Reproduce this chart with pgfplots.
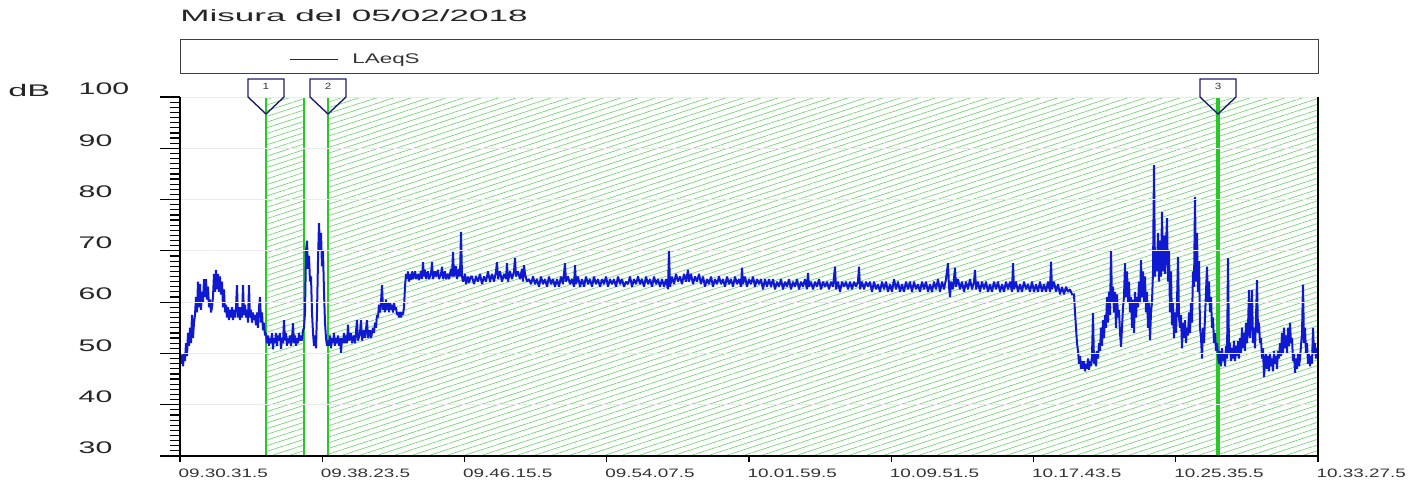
\documentclass[border=0pt]{standalone}
\usepackage{pgfplots}
\pgfplotsset{compat=1.18}
\usepackage{graphicx}
\usepackage{fontspec}
\setmainfont{Liberation Sans}
\usetikzlibrary{patterns.meta}
\definecolor{dataBlue}{RGB}{15,25,210}
\definecolor{hatchGreen}{RGB}{125,215,125}
\definecolor{lineGreen}{RGB}{40,200,40}
\definecolor{flagNavy}{RGB}{30,30,110}
\begin{document}
\begin{tikzpicture}
\begin{axis}[
  at={(0,0)}, anchor=south west, scale only axis,
  width=569pt, height=179.5pt,
  xmin=0, xmax=1138, ymin=30, ymax=100,
  axis x line*=bottom, axis y line*=left,
  axis line style={line width=0.6pt, black},
  axis on top,
  tick align=outside, major tick length=3pt, minor tick length=5pt,
  tick style={black, line width=0.6pt},
  /pgf/number format/assume math mode=true,
  xtick={0,142.25,284.5,426.75,569,711.25,853.5,995.75,1138},
  xticklabels={09.30.31.5,09.38.23.5,09.46.15.5,09.54.07.5,10.01.59.5,10.09.51.5,10.17.43.5,10.25.35.5,10.33.27.5},
  xticklabel style={anchor=north west, inner sep=0pt, xshift=-1pt, yshift=-3.5pt, xscale=1.55, font=\fontsize{6.1}{7}\selectfont, text=black!80},
  ytick={30,40,50,60,70,80,90,100},
  minor y tick num=9,
  yticklabel style={anchor=west, inner sep=0pt, xshift=-48pt, yshift=4pt, xscale=1.8, font=\fontsize{8.4}{9}\selectfont, text=black!85},
  extra y ticks={30,40,50,60,70,80,90,100},
  extra y tick labels={},
  extra y tick style={major tick length=10pt, grid=none},
  ymajorgrids, major grid style={black!8, line width=0.4pt},
  clip=true,
]
\fill[pattern={Lines[angle=18,distance=2.7pt,line width=0.38pt]}, pattern color=hatchGreen] (axis cs:86,30) rectangle (axis cs:124,100);
\fill[pattern={Lines[angle=18,distance=2.7pt,line width=0.38pt]}, pattern color=hatchGreen] (axis cs:148,30) rectangle (axis cs:1138,100);
\draw[lineGreen, line width=0.8pt] (axis cs:86,30) -- (axis cs:86,100);
\draw[lineGreen, line width=0.8pt] (axis cs:124,30) -- (axis cs:124,100);
\draw[lineGreen, line width=0.8pt] (axis cs:148,30) -- (axis cs:148,100);
\draw[lineGreen, line width=1.6pt] (axis cs:1038,30) -- (axis cs:1038,100);
\addplot[dataBlue, line width=1.0pt, mark=none, line join=miter, miter limit=2] coordinates {
(0,49.5)(1,48)(2,49.8)(3,47.5)(4,50)(5,48.5)(6,52)(7,49.5)(8,54)(9,51.5)(10,55)(11,52)(12,57.5)(13,53)(14,56)(15,57.5)(16,61)(17,58)(18,64)(19,59)(20,63.5)(21,58.5)(22,62)(23,60)(24,64.5)(25,61)(26,64.5)(27,60.5)(28,63)(29,59)(30,60.5)(31,58)(32,59)(33,61)(34,65.5)(35,62)(36,66.3)(37,62.5)(38,65.5)(39,62)(40,65)(41,61.5)(42,64)(43,59)(44,62.5)(45,58)(46,59.5)(47,57)(48,59)(49,56.5)(50,58.5)(51,57)(52,59)(53,56.5)(54,58.5)(55,57)(56,59)(57,63.3)(58,57)(59,59)(60,56.5)(61,59)(62,57)(63,63.3)(64,57.5)(65,59.5)(66,57)(67,58.5)(68,56)(69,63.3)(70,57)(71,58.5)(72,56)(73,58)(74,56.5)(75,57.5)(76,55.5)(77,58)(78,55)(79,59)(80,61)(81,56)(82,58)(83,54.5)(84,56)(85,53.5)(86,54)
(87,52)(88,53.5)(89,51.5)(90,53)(91,52)(92,54)(93,50.8)(94,53)(95,52)(96,54)(97,51.5)(98,53.5)(99,52.5)(100,54)(101,50.9)(102,53)(103,52)(104,56.5)(105,52.5)(106,54)(107,51.5)(108,53)(109,52)(110,53.5)(111,51.5)(112,53)(113,55.9)(114,52)(115,53.5)(116,51.5)(117,53)(118,52)(119,54)(120,52.5)(121,53.5)(122,52.5)(123,54.5)(124,55)
(125,58)(126,70)(127,72)(128,66.5)(129,69)(130,64)(131,65)(132,58)(133,54)(134,51.5)(135,53.5)(136,51)(137,58)(138,68)(139,75.4)(140,70)(141,73.5)(142,67)(143,70)(144,62)(145,56)(146,53)(147,51.5)(148,52.5)
(149,51.5)(150,53.5)(151,51)(152,53)(153,52)(154,54)(155,51.5)(156,53)(157,52)(158,53.5)(159,51.5)(160,53)(161,50.1)(162,53)(163,52)(164,54)(165,52)(166,53.5)(167,52)(168,55.6)(169,52.5)(171,54)(172,52)(174,53.5)(175,52)(177,56.5)(178,52.5)(180,54)(181,56.5)(182,52.5)(184,54.5)(185,53)(187,56.5)(188,53)(190,54.5)(191,53)(193,55)(194,54)(195,56)(196,55)(197,57.5)(198,57)(199,59.5)(200,58)(201,60)(202,63.3)(203,58.5)(204,60)(205,58)(206,60.5)(207,58.5)(208,60)(209,58)(210,60)(211,58.5)(212,59.5)(213,58)(214,60)(215,58.5)(216,59)(217,57.5)(218,58)(219,57)(220,58)(221,57)(222,58)(223,57.5)(224,59)(225,63)(226,65.5)
(227,64.5)(228,66)(229,64)(230,65.5)(231,64.3)(232,66)(233,64.5)(235,66)(236,64.5)(238,65.5)(239,64.3)(241,66)(242,64.5)(243,67.8)(244,65)(245,66.3)(246,64.5)(248,66)(249,64.5)(251,65.5)(252,67.8)(253,64.5)(255,66)(256,65)(258,66.3)(259,64.5)(261,65.5)(262,66.9)(263,64.5)(265,66)(266,64.5)(268,65.5)(269,64.5)(271,66.5)(272,65)(273,69.8)(274,65)(276,67)(277,64.5)(279,66.5)(280,65)(281,73.7)(282,65)(283,64)(285,65.5)(286,63.5)(288,65)(289,63.8)(291,65)
(292,65)(294,63.5)(296,65)(298,64)(300,65.5)(302,63.5)(304,65)(306,64)(308,66)(310,64)(312,65.5)(314,64)(316,66)(317,67.8)(318,64.5)(320,66)(322,64)(324,65.5)(326,64.5)(327,67.6)(328,64)(330,66)(332,64.5)(334,66)(335,68.6)(336,65)(338,66)(340,64.5)(342,66.5)(343,64)(344,67.2)(345,65.5)(347,64)(349,64.5)(351,63.5)
(353,65)(355,63.5)(357,64.5)(359,63)(361,65)(363,63.5)(365,64.5)(367,63)(369,65)(371,63.5)(373,64.5)(375,63)(377,64.5)(379,63)(381,65)(383,63.5)(385,67.6)(386,64)(388,65)(390,63.5)(392,64.5)(394,63)(395,67.2)(396,63.5)(398,65)(400,63)(402,64.5)(404,63)(406,65)(408,63.5)(410,64.5)(412,63)(414,65)(416,63.5)(418,64.5)(420,63)(422,64.5)(424,63.5)(426,65)(428,63)(430,64.5)(432,63.5)(434,64.5)(436,63)(438,65)(440,63.5)(442,64.5)(444,63)(446,64)(448,63.5)(450,65)(452,63)(454,64.5)(456,63.5)(458,65)(460,63.5)
(462,64.5)(464,63)(466,65)(468,63.5)(470,64.5)(472,63)(474,65)(476,63.5)(478,64.5)(480,63)(482,64.5)(484,63)(486,64.5)(488,62.5)(489,70.2)(490,63)(492,65)(494,63.5)(496,65.5)(498,64)(500,65)(502,63.5)(504,65.5)(506,64)(508,66.3)(509,64)(511,65.5)(513,63.5)(515,65)(517,64)(519,65.5)(521,63.5)(523,65)(525,63)(527,64.5)(529,63.5)(531,65)(533,63)(535,64.5)(537,63.5)(539,65)(541,63.5)(543,64.5)(545,63)(547,65)(549,63.5)(551,64.5)(553,63)(555,65)(557,63.5)(559,64.5)(561,63)(562,66.7)(563,63.5)(565,65)(567,63)(569,64.5)(571,63.5)(573,65)(575,63)(577,64.5)(579,63.5)(581,64.5)(583,62.5)(585,64.5)(587,63)(589,64.5)(591,63)(593,64.5)(595,62.5)(597,64)(599,63)(601,64.5)(603,62.5)(605,64)(607,63)(609,64.5)(611,62.5)(613,64)(615,63)(617,64.5)(619,62.5)(621,64)(623,63)(625,64.5)(627,62.5)(628,65.7)(629,63)(631,64)(633,62.5)(635,64)(637,63)(639,64.5)(641,62.5)(643,64)(645,63)(647,64)(649,62.5)(651,64)(653,63)(655,66.9)(656,62.5)(658,64)(660,62)(662,64)(664,63)(666,64)(668,62.5)(670,64)(672,62.5)(674,64)(676,63)(678,64)(679,66.9)(680,62.5)(682,64)(684,62.5)(686,64)(688,63)(690,64)
(692,62)(694,64)(696,62.5)(698,63.5)(700,62)(702,64)(704,62.5)(706,64)(708,62)(710,63.5)(712,62)(714,64.5)(716,62.5)(718,64)(720,62)(722,63.5)(724,62)(726,64)(728,62.5)(730,64)(732,62)(734,64)(736,62.5)(738,63.5)(740,62)(742,64)(744,62.5)(746,64)(748,62)(750,63.5)(752,62)(754,64)(756,62.5)(758,64.5)(760,62)(762,64)(764,62.5)(766,64.5)(768,67.6)(769,63)(770,61)(771,64)(773,62.5)(775,66.7)(776,63)(778,64.5)(780,62.5)(782,64)(784,62)(786,64)(788,62.5)(790,64.5)(792,62.5)(794,64)(795,66.3)(796,62.5)(798,64)(800,62)(802,64)(804,62.5)(806,64)(808,62)(810,63.5)(812,62)(814,64)(816,62.5)(818,64)(820,62)(822,63.5)(824,62)(826,64)(828,62.5)(830,64)(832,62)(833,67.6)(834,62.5)(836,64)(838,62)(840,63.5)(842,62)(844,64)(846,62.5)(848,63.5)(850,62)(852,64)(854,62)(856,63.5)(858,62)(860,64)(862,62)(864,63.5)(866,62)(868,64)(870,62)(871,67.9)(872,62.5)(874,64)(876,62)(878,63.5)(880,61.5)(882,63)(884,61.5)(886,63)(888,62)(890,62.5)(892,61.5)(894,61.5)(895,58)(896,55)(897,52)(898,50.5)(899,48)(900,49.5)(901,47)(902,48.5)(903,47)(904,48.5)(905,46.5)(906,48)(907,47)(908,49)(909,46.8)(910,48.5)
(911,47.5)(912,49.5)(913,57.9)(914,48)(915,50)(916,47.5)(917,50.5)(918,49)(919,52)(920,50.5)(921,55)(922,51.5)(923,56.5)(924,53)(925,57.5)(926,55)(927,61)(928,56)(929,62)(930,57.5)(931,70.2)(932,60)(933,63)(934,58)(935,62)(936,55)(937,61.5)(938,57)(939,58.5)(940,54)(941,51.3)(942,55)(943,59)(944,61)(945,67.6)(946,61)(947,66)(948,60)(949,64)(950,58)(951,61)(952,55)(953,60.5)(954,54)(955,62)(956,57)(957,61)(958,59)(959,64)(960,60)(961,68.2)(962,61)(963,66)(964,60)(965,65)(966,58)(967,62)(968,55)(969,60)(970,52.6)(971,58)(972,60)(973,66)(974,86.7)(975,65)(976,70)(977,66)(978,73.5)(979,64)(980,72)(981,65)(982,77.6)(983,66)(984,73)(985,65.5)(986,71)(987,76.4)(988,64)(989,70)(990,58)(991,66)(992,55.5)(993,60)(994,53)(995,58)(996,54)(997,60)(998,68.8)(999,57)(1000,55)(1001,57.5)(1002,51)(1003,56)(1004,53)(1005,56.5)(1006,52)(1007,55)(1008,53.5)(1009,58)(1010,54)(1011,60)(1012,56)(1013,66)(1014,63)(1015,80.5)(1016,64)(1017,73.5)(1018,62)(1019,68)(1020,55)(1021,53)(1022,49)(1023,55)(1024,52)(1025,57)(1026,62)(1027,66.9)(1028,60)(1029,64)(1030,58)(1031,61)(1032,55)(1033,57)(1034,52)(1035,54)(1036,50.5)(1037,52)(1038,49.5)
(1039,48)(1040,50.5)(1041,47.5)(1042,51)(1043,48.5)(1044,50)(1045,47.5)(1046,51.5)(1047,49)(1048,68.6)(1049,50)(1050,52)(1051,48.5)(1052,51)(1053,49)(1054,52.5)(1055,48.5)(1056,51.5)(1057,49.5)(1058,52.4)(1059,49)(1060,53)(1061,50)(1062,55)(1063,51)(1064,54)(1065,50.5)(1066,56)(1067,52)(1068,55)(1069,62.4)(1070,53)(1071,56)(1072,62.4)(1073,52)(1074,55)(1075,51)(1076,57)(1077,64.3)(1078,54)(1079,56)(1080,52)(1081,53)(1082,49)(1083,51)(1084,45.4)(1085,48)(1086,50)(1087,47)(1088,49.5)(1089,46.5)(1090,50)(1091,47.5)(1092,49)(1093,46.5)(1094,50.5)(1095,48)(1096,49.5)(1097,47)(1098,50.5)(1099,49)(1100,52)(1101,49.5)(1102,54)(1103,50)(1104,55)(1105,51)(1106,53.5)(1107,50)(1108,55)(1109,51.5)(1110,56)(1111,52)(1112,53)(1113,48.5)(1114,50)(1115,46.2)(1116,49)(1117,47)(1118,50)(1119,47.5)(1120,49)(1121,51.5)(1122,54)(1123,63.4)(1124,52)(1125,55)(1126,50)(1127,52)(1128,48)(1129,50)(1130,47.5)(1131,49.5)(1132,48)(1133,55)(1134,50)(1135,52)(1136,49)(1137,51)(1138,49.5)
};
\end{axis}
% right border
\draw[line width=0.6pt, black] (569pt,0pt) -- (569pt,179.5pt);
% title
\node[anchor=west, inner sep=0pt, text=black!85] at (0pt,220pt) {\scalebox{2.14}[1]{\fontsize{8.2}{10}\selectfont Misura del 05/02/2018}};
% dB unit
\node[anchor=west, inner sep=0pt, text=black!85] at (-86pt,183pt) {\scalebox{2.04}[1]{\fontsize{8.4}{10}\selectfont dB}};
% legend box
\draw[black!75, line width=0.5pt] (0pt,191pt) rectangle (569pt,208pt);
\draw[flagNavy, line width=0.5pt] (55pt,198pt) -- (79pt,198pt);
\node[anchor=west, inner sep=0pt, text=black!80] at (86pt,198pt) {\scalebox{1.6}[1]{\fontsize{7}{8}\selectfont LAeqS}};
% marker flags
\draw[flagNavy, line width=0.7pt] (34pt,188.5pt) -- (52pt,188.5pt) -- (52pt,179.5pt) -- (43pt,171pt) -- (34pt,179.5pt) -- cycle;
\node[text=black!80] at (43pt,185pt) {\scalebox{1.3}[1]{\fontsize{4.5}{5}\selectfont 1}};
\draw[flagNavy, line width=0.7pt] (65pt,188.5pt) -- (83pt,188.5pt) -- (83pt,179.5pt) -- (74pt,171pt) -- (65pt,179.5pt) -- cycle;
\node[text=black!80] at (74pt,185pt) {\scalebox{1.3}[1]{\fontsize{4.5}{5}\selectfont 2}};
\draw[flagNavy, line width=0.7pt] (510pt,188.5pt) -- (528pt,188.5pt) -- (528pt,179.5pt) -- (519pt,171pt) -- (510pt,179.5pt) -- cycle;
\node[text=black!80] at (519pt,185pt) {\scalebox{1.3}[1]{\fontsize{4.5}{5}\selectfont 3}};
\pgfresetboundingbox
\useasboundingbox (-90pt,-15.5pt) rectangle (624pt,228pt);
\end{tikzpicture}
\end{document}
